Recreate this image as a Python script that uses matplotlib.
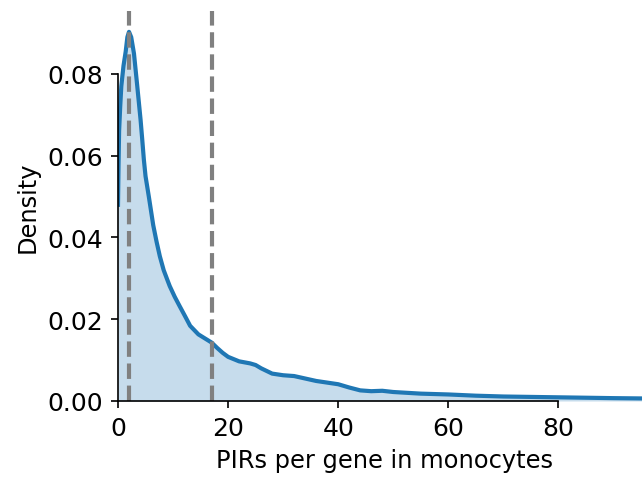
import matplotlib
matplotlib.use("Agg")
import matplotlib.pyplot as plt

# density curve (PIRs per gene -> density)
pirs = [0, 0.1, 0.2, 0.4, 0.6, 1.0, 1.4, 1.7, 2.0, 2.4,
        2.9, 3.5, 4.1, 4.4, 4.7, 5.0, 5.6, 6.4, 7.0, 7.6,
        8.3, 9.0, 9.4, 10.3, 11.2, 12.2, 13.1, 14.6, 15.8, 17,
        18, 19, 20, 22, 24, 25, 26, 28, 30, 32,
        34, 36, 38, 40, 42, 44, 46, 48, 50, 55,
        60, 65, 70, 75, 80, 85, 90, 97]
density = [0.048, 0.058, 0.066, 0.072, 0.077, 0.082, 0.0855, 0.089, 0.0903, 0.089,
           0.085, 0.077, 0.0688, 0.064, 0.059, 0.055, 0.050, 0.043, 0.039, 0.0354,
           0.032, 0.0295, 0.0281, 0.0255, 0.0232, 0.0207, 0.0184, 0.0163, 0.0153, 0.0143,
           0.013, 0.0118, 0.0108, 0.0097, 0.0092, 0.0088, 0.0080, 0.0067, 0.0063, 0.0061,
           0.0055, 0.0049, 0.0045, 0.0041, 0.0033, 0.0026, 0.0024, 0.0025, 0.0022, 0.0018,
           0.0016, 0.0013, 0.0011, 0.0010, 0.0009, 0.0008, 0.0007, 0.0006]
markers = [2, 17]   # dashed reference lines

xticks = [0, 20, 40, 60, 80]
yticks = [0.00, 0.02, 0.04, 0.06, 0.08]

plt.rcParams['font.size'] = 12
fig = plt.figure(figsize=(6.42 / 1.5, 4.8 / 1.5), dpi=150)
ax = fig.add_axes([118 / 642, 1 - 402 / 480, 534 / 642, 390 / 480])

blue = '#1f77b4'
ax.fill_between(pirs, density, color=blue, alpha=0.25, linewidth=0)
ax.plot(pirs, density, color=blue, linewidth=2)
for m in markers:
    ax.axvline(m, color='gray', linestyle='--', linewidth=2)

ax.set_xlim(0, 97)
ax.set_ylim(0, 0.0954)
ax.set_xticks(xticks)
ax.set_yticks(yticks)
ax.set_yticklabels(['%.2f' % v for v in yticks])
ax.set_xlabel('PIRs per gene in monocytes', fontsize=11.6)
ax.set_ylabel('Density', fontsize=11.6)

# trimmed spines like sns.despine(trim=True)
ax.spines['top'].set_visible(False)
ax.spines['right'].set_visible(False)
ax.spines['left'].set_bounds(0, 0.08)
ax.spines['bottom'].set_bounds(0, 80)

fig.savefig('out.png', dpi=150)
